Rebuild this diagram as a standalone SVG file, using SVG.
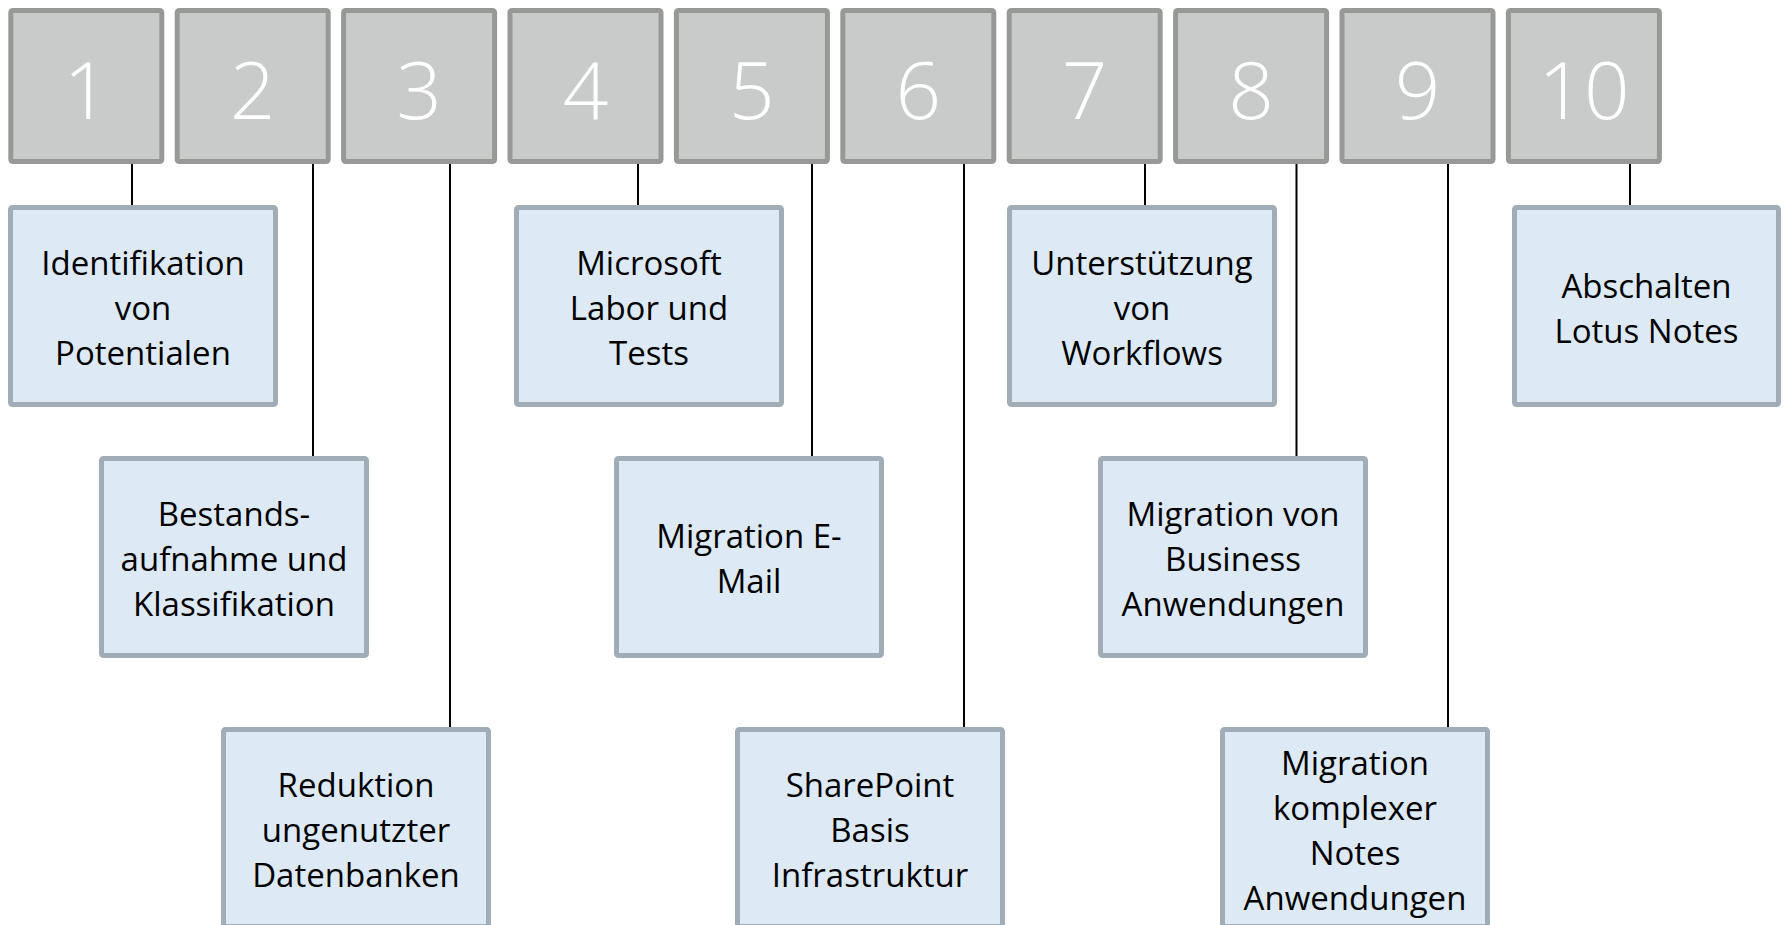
<svg xmlns="http://www.w3.org/2000/svg" width="1785" height="925" viewBox="0 0 1785 925">
<style>
.num rect{fill:#c9cbca;stroke:#979997;stroke-width:5}
.num text{fill:#ffffff;font-family:"Open Sans","Noto Sans",sans-serif;font-weight:300;font-size:80px;text-anchor:middle}
.lbl rect{fill:#ddeaf5;stroke:#a1adb6;stroke-width:5}
.lbl text{fill:#000000;font-family:"Open Sans","Noto Sans",sans-serif;font-size:33px;text-anchor:middle}
#connectors line{stroke:#000000;stroke-width:2}
</style>
<rect x="0" y="0" width="1785" height="925" fill="#ffffff"/>
<g id="connectors">
<line x1="132" y1="163" x2="132" y2="206"/>
<line x1="313" y1="163" x2="313" y2="457"/>
<line x1="450" y1="163" x2="450" y2="728"/>
<line x1="638" y1="163" x2="638" y2="206"/>
<line x1="812" y1="163" x2="812" y2="457"/>
<line x1="964" y1="163" x2="964" y2="728"/>
<line x1="1145" y1="163" x2="1145" y2="206"/>
<line x1="1296.5" y1="163" x2="1296.5" y2="457"/>
<line x1="1448" y1="163" x2="1448" y2="728"/>
<line x1="1630" y1="163" x2="1630" y2="206"/>
</g>
<g id="n1" class="num"><rect x="10.8" y="10.5" width="151" height="151" rx="2"/><text x="86.3" y="119">1</text></g>
<g id="n2" class="num"><rect x="177.2" y="10.5" width="151" height="151" rx="2"/><text x="252.7" y="119">2</text></g>
<g id="n3" class="num"><rect x="343.6" y="10.5" width="151" height="151" rx="2"/><text x="419.1" y="119">3</text></g>
<g id="n4" class="num"><rect x="510" y="10.5" width="151" height="151" rx="2"/><text x="585.5" y="119">4</text></g>
<g id="n5" class="num"><rect x="676.4" y="10.5" width="151" height="151" rx="2"/><text x="751.9" y="119">5</text></g>
<g id="n6" class="num"><rect x="842.8" y="10.5" width="151" height="151" rx="2"/><text x="918.3" y="119">6</text></g>
<g id="n7" class="num"><rect x="1009.2" y="10.5" width="151" height="151" rx="2"/><text x="1084.7" y="119">7</text></g>
<g id="n8" class="num"><rect x="1175.6" y="10.5" width="151" height="151" rx="2"/><text x="1251.1" y="119">8</text></g>
<g id="n9" class="num"><rect x="1342" y="10.5" width="151" height="151" rx="2"/><text x="1417.5" y="119">9</text></g>
<g id="n10" class="num"><rect x="1508.4" y="10.5" width="151" height="151" rx="2"/><text x="1583.9" y="119">10</text></g>

<g id="l1" class="lbl"><rect x="10.5" y="207.5" width="265" height="197" rx="2"/>
<text x="143" y="275">Identifikation</text><text x="143" y="320">von</text><text x="143" y="365">Potentialen</text></g>
<g id="l2" class="lbl"><rect x="101.5" y="458.5" width="265" height="197" rx="2"/>
<text x="234" y="526">Bestands-</text><text x="234" y="571">aufnahme und</text><text x="234" y="616">Klassifikation</text></g>
<g id="l3" class="lbl"><rect x="223.5" y="729.5" width="265" height="197" rx="2"/>
<text x="356" y="797">Reduktion</text><text x="356" y="842">ungenutzter</text><text x="356" y="887">Datenbanken</text></g>
<g id="l4" class="lbl"><rect x="516.5" y="207.5" width="265" height="197" rx="2"/>
<text x="649" y="275">Microsoft</text><text x="649" y="320">Labor und</text><text x="649" y="365">Tests</text></g>
<g id="l5" class="lbl"><rect x="616.5" y="458.5" width="265" height="197" rx="2"/>
<text x="749" y="548">Migration E-</text><text x="749" y="593">Mail</text></g>
<g id="l6" class="lbl"><rect x="737.5" y="729.5" width="265" height="197" rx="2"/>
<text x="870" y="797">SharePoint</text><text x="870" y="842">Basis</text><text x="870" y="887">Infrastruktur</text></g>
<g id="l7" class="lbl"><rect x="1009.5" y="207.5" width="265" height="197" rx="2"/>
<text x="1142" y="275">Unterstützung</text><text x="1142" y="320">von</text><text x="1142" y="365">Workflows</text></g>
<g id="l8" class="lbl"><rect x="1100.5" y="458.5" width="265" height="197" rx="2"/>
<text x="1233" y="526">Migration von</text><text x="1233" y="571">Business</text><text x="1233" y="616">Anwendungen</text></g>
<g id="l9" class="lbl"><rect x="1222.5" y="729.5" width="265" height="197" rx="2"/>
<text x="1355" y="775">Migration</text><text x="1355" y="820">komplexer</text><text x="1355" y="865">Notes</text><text x="1355" y="910">Anwendungen</text></g>
<g id="l10" class="lbl"><rect x="1514.5" y="207.5" width="264" height="197" rx="2"/>
<text x="1646.5" y="298">Abschalten</text><text x="1646.5" y="343">Lotus Notes</text></g>
</svg>
